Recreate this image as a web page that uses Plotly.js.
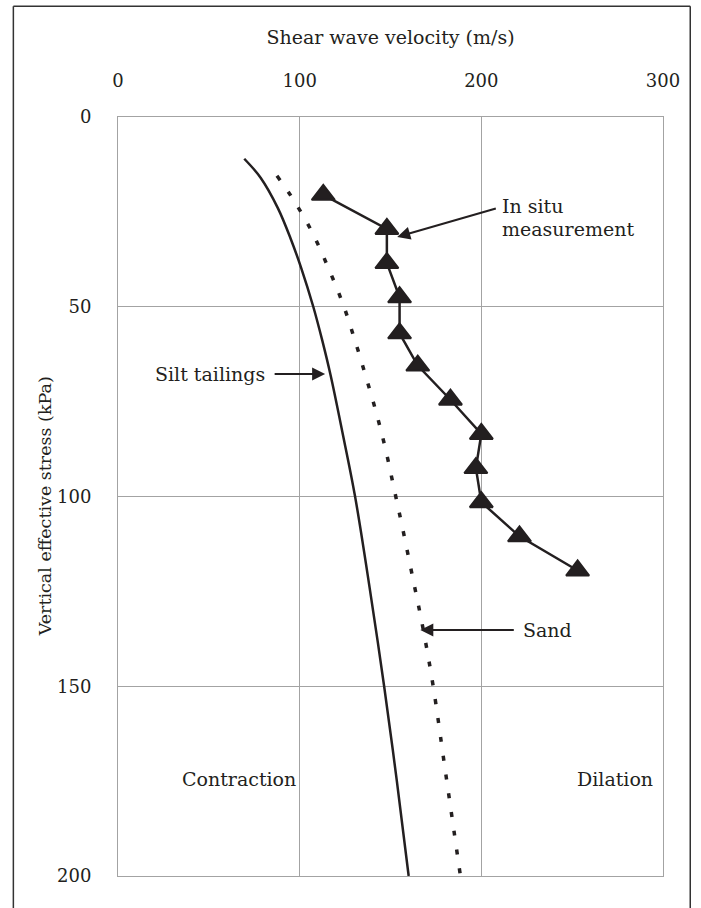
<!DOCTYPE html>
<html>
<head>
<meta charset="utf-8">
<script src="https://cdn.plot.ly/plotly-3.0.1.min.js"></script>
<style>
  html, body { margin: 0; padding: 0; background: #fff; }
  #chart { width: 701px; height: 908px; }
</style>
</head>
<body>
<div id="chart"></div>
<script>
// Silt tailings curve (solid)
const siltStress   = [11, 16, 24, 32, 40, 50, 59, 68, 83, 100, 124, 150, 175, 200];
const siltVelocity = [69.5, 78.5, 88, 95, 101, 107.5, 112.5, 117, 123.5, 130.5, 138.5, 146.5, 153.5, 160];

// Sand curve (dotted)
const sandStress   = [15.5, 21, 30, 40, 49.5, 59, 68.5, 78.5, 88, 98, 108, 122, 135, 150, 170, 185, 200];
const sandVelocity = [87.5, 95.5, 106.5, 116, 124, 130.5, 136.5, 142.5, 147.5, 152, 156.5, 162.5, 168, 173.5, 179.5, 184, 188.5];

// In situ measurements (triangles)
const insituStress   = [20.5, 29.5, 38.5, 47.5, 57, 65.5, 74.5, 83.5, 92.5, 101.5, 110.5, 119.5];
const insituVelocity = [113, 148, 148, 155, 155, 165, 183, 200, 197, 200, 221, 253];

const xTicks = [0, 100, 200, 300];
const yTicks = [0, 50, 100, 150, 200];

const FONT = 'DejaVu Serif, Liberation Serif, serif';
const INK = '#231f20';
const GRID = '#a3a3a3';

const traces = [
  { x: siltVelocity, y: siltStress, mode: 'lines', line: { color: INK, width: 2.5, shape: 'spline', smoothing: 1 }, hoverinfo: 'skip' },
  { x: sandVelocity, y: sandStress, mode: 'lines', line: { color: INK, width: 3.5, dash: '5px,14px', shape: 'spline', smoothing: 1 }, hoverinfo: 'skip' },
  { x: insituVelocity, y: insituStress, mode: 'lines+markers',
    line: { color: INK, width: 2.5 },
    marker: { symbol: 'triangle-up', size: 20, color: INK, line: { color: INK, width: 2 } } }
];

const tickFont = { family: FONT, size: 18, color: INK };
const txtFont = { family: FONT, size: 19, color: INK };

const layout = {
  width: 701, height: 908,
  margin: { l: 118, r: 38, t: 117, b: 32 },
  paper_bgcolor: '#fff', plot_bgcolor: '#fff',
  showlegend: false,
  font: txtFont,
  xaxis: {
    side: 'top', range: [0, 300], tickvals: xTicks, ticktext: xTicks.map(String),
    showgrid: true, gridcolor: GRID, gridwidth: 1,
    showline: true, linecolor: GRID, linewidth: 1, mirror: true,
    zeroline: false,
    ticks: 'outside', ticklen: 22, tickcolor: 'rgba(0,0,0,0)',
    tickfont: tickFont,
    title: { text: 'Shear wave velocity (m/s)', font: txtFont, standoff: 20 }
  },
  yaxis: {
    range: [200, 0], tickvals: yTicks, ticktext: yTicks.map(String),
    showgrid: true, gridcolor: GRID, gridwidth: 1,
    showline: true, linecolor: GRID, linewidth: 1, mirror: true,
    zeroline: false,
    ticks: 'outside', ticklen: 22, tickcolor: 'rgba(0,0,0,0)',
    tickfont: tickFont,
    title: { text: '' }
  },
  shapes: [
    { type: 'line', xref: 'paper', yref: 'paper', x0: -0.192, x1: -0.192, y0: -0.05, y1: 1.146, line: { color: '#333', width: 1.5 } },
    { type: 'line', xref: 'paper', yref: 'paper', x0: -0.192, x1: 1.050, y0: 1.146, y1: 1.146, line: { color: '#333', width: 1.5 } },
    { type: 'line', xref: 'paper', yref: 'paper', x0: 1.050, x1: 1.050, y0: -0.05, y1: 1.146, line: { color: '#333', width: 1.5 } }
  ],
  annotations: [
    { x: -0.134, y: 0.487, xref: 'paper', yref: 'paper', xanchor: 'center', yanchor: 'middle', textangle: -90, text: 'Vertical effective stress (kPa)', showarrow: false, font: { family: FONT, size: 17.5, color: INK } },
    { x: 153.7, y: 31.6, ax: 208.8, ay: 24, axref: 'x', ayref: 'y', xref: 'x', yref: 'y', text: '', showarrow: true, arrowhead: 2, arrowsize: 1.3, arrowwidth: 2, arrowcolor: INK },
    { x: 210.5, y: 23.4, xref: 'x', yref: 'y', xanchor: 'left', yanchor: 'middle', text: 'In situ', showarrow: false, font: txtFont },
    { x: 210.5, y: 29.6, xref: 'x', yref: 'y', xanchor: 'left', yanchor: 'middle', text: 'measurement', showarrow: false, font: txtFont },
    { x: 114, y: 67.7, ax: 85.4, ay: 67.7, axref: 'x', ayref: 'y', xref: 'x', yref: 'y', text: '', showarrow: true, arrowhead: 2, arrowsize: 1.3, arrowwidth: 2, arrowcolor: INK },
    { x: 82, y: 67.7, xref: 'x', yref: 'y', xanchor: 'right', yanchor: 'middle', text: 'Silt tailings', showarrow: false, font: txtFont },
    { x: 166.4, y: 135.2, ax: 218.7, ay: 135.2, axref: 'x', ayref: 'y', xref: 'x', yref: 'y', text: '', showarrow: true, arrowhead: 2, arrowsize: 1.3, arrowwidth: 2, arrowcolor: INK },
    { x: 222, y: 135.2, xref: 'x', yref: 'y', xanchor: 'left', yanchor: 'middle', text: 'Sand', showarrow: false, font: txtFont },
    { x: 66.7, y: 174.4, xref: 'x', yref: 'y', xanchor: 'center', yanchor: 'middle', text: 'Contraction', showarrow: false, font: txtFont },
    { x: 273.3, y: 174.4, xref: 'x', yref: 'y', xanchor: 'center', yanchor: 'middle', text: 'Dilation', showarrow: false, font: txtFont }
  ]
};

Plotly.newPlot('chart', traces, layout, { displayModeBar: false, staticPlot: true });
</script>
</body>
</html>
